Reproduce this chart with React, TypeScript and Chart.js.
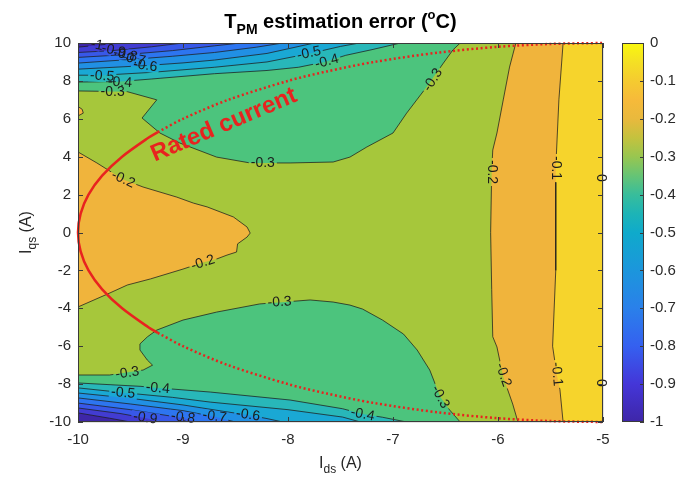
import React, { useEffect, useRef } from 'react';
import { Chart, registerables } from 'chart.js';

Chart.register(...registerables);

type P = [number, number];

const FONT = '"Liberation Sans", Arial, Helvetica, sans-serif';

// ---- axes ----
const X_MIN = -10, X_MAX = -5, X_STEP = 1;
const Y_MIN = -10, Y_MAX = 10, Y_STEP = 2;
const CB_MIN = -1, CB_MAX = 0, CB_STEP = 0.1;

// ---- contour lines (data coords: Ids, Iqs) ----
const c01: P[] = [[-5.38, 10], [-5.42, 7.0], [-5.45, 3.4], [-5.45, -2], [-5.48, -6.0], [-5.44, -7.5], [-5.41, -8.3], [-5.38, -10]];
const c02Right: P[] = [[-5.83, 10], [-5.89, 8.73], [-5.95, 7.0], [-6.01, 5.25], [-6.05, 4.35], [-6.06, 3.2], [-6.07, 0], [-6.06, -3], [-6.05, -5.5], [-6.01, -6.04], [-5.95, -7.63], [-5.86, -9.05], [-5.81, -10]];
const c02Left: P[] = [[-10, 4.25], [-9.82, 3.67], [-9.57, 2.8], [-9.38, 2.4], [-9.06, 1.87], [-8.9, 1.55], [-8.77, 1.35], [-8.52, 0.82], [-8.39, 0.29], [-8.36, -0.03], [-8.39, -0.24], [-8.48, -0.6], [-8.49, -1.03], [-8.58, -1.19], [-8.68, -1.4], [-8.81, -1.58], [-9.0, -1.93], [-9.31, -2.45], [-9.53, -2.77], [-9.72, -3.25], [-10, -3.93]];
const c02Bump: P[] = [[-10, 6.65], [-9.96, 6.5], [-9.95, 6.3], [-10, 6.15]];
const c03Top: P[] = [[-10, 7.47], [-9.53, 7.43], [-9.25, 7.0], [-9.39, 6.04], [-9.22, 5.25], [-9.03, 4.72], [-8.68, 3.98], [-8.36, 3.67], [-7.98, 3.67], [-7.57, 3.72], [-7.41, 3.98], [-7.25, 4.51], [-7.0, 5.25], [-6.87, 6.3], [-6.68, 7.68], [-6.52, 8.94], [-6.43, 9.63], [-6.36, 10]];
const c03Bottom: P[] = [[-10, -7.52], [-9.7, -7.52], [-9.38, -7.26], [-9.29, -7.0], [-9.34, -6.73], [-9.41, -6.2], [-9.41, -5.88], [-9.34, -5.51], [-9.25, -5.15], [-9.0, -4.62], [-8.68, -4.2], [-8.27, -3.77], [-7.79, -3.56], [-7.57, -3.67], [-7.41, -3.83], [-7.29, -4.04], [-7.1, -4.62], [-6.9, -5.36], [-6.77, -6.2], [-6.65, -7.26], [-6.55, -8.68], [-6.46, -9.37], [-6.36, -10]];

// upper band (left edge -> top edge)
const u04: P[] = [[-10, 7.94], [-9.62, 7.96], [-9.3, 8.1], [-8.7, 8.38], [-8.2, 8.55], [-7.9, 8.72], [-7.65, 9.0], [-7.45, 9.35], [-7.2, 9.65], [-6.93, 10]];
const u05: P[] = [[-10, 8.3], [-9.77, 8.3], [-9.3, 8.45], [-8.7, 8.72], [-8.2, 9.0], [-7.79, 9.45], [-7.5, 9.82], [-7.32, 10]];
const u06: P[] = [[-10, 8.62], [-9.38, 8.8], [-9.0, 8.95], [-8.7, 9.1], [-8.2, 9.45], [-7.75, 10]];
const u07: P[] = [[-10, 8.94], [-9.48, 9.14], [-9.1, 9.3], [-8.7, 9.5], [-8.3, 9.78], [-8.05, 10]];
const u08: P[] = [[-10, 9.24], [-9.56, 9.38], [-9.1, 9.6], [-8.7, 9.85], [-8.45, 10]];
const u09: P[] = [[-10, 9.5], [-9.67, 9.6], [-9.3, 9.8], [-9.0, 10]];
const u10: P[] = [[-10, 9.78], [-9.82, 9.88], [-9.6, 10]];

// lower band (left edge -> bottom edge)
const l04: P[] = [[-10, -7.94], [-9.4, -8.12], [-9.24, -8.2], [-8.74, -8.42], [-7.98, -8.84], [-7.48, -9.3], [-7.29, -9.58], [-7.1, -9.75], [-6.87, -10]];
const l05: P[] = [[-10, -8.2], [-9.57, -8.45], [-9.1, -8.7], [-8.74, -8.95], [-8.0, -9.35], [-7.48, -9.74], [-7.31, -10]];
const l06: P[] = [[-10, -8.47], [-9.5, -8.75], [-9.0, -9.1], [-8.6, -9.45], [-8.38, -9.63], [-8.2, -9.82], [-8.05, -10]];
const l07: P[] = [[-10, -8.73], [-9.5, -9.05], [-9.0, -9.4], [-8.7, -9.72], [-8.5, -10]];
const l08: P[] = [[-10, -9.0], [-9.5, -9.35], [-9.0, -9.79], [-8.85, -10]];
const l09: P[] = [[-10, -9.26], [-9.6, -9.55], [-9.36, -9.79], [-9.2, -10]];
const l10: P[] = [[-10, -9.52], [-9.7, -9.8], [-9.5, -10]];

// rated current curve
const ratedSolid: P[] = [[-9.24, 5.3], [-9.33, 5.0], [-9.58, 4.0], [-9.77, 3.0], [-9.9, 2.0], [-9.975, 1.0], [-10, 0], [-9.975, -1.0], [-9.9, -2.0], [-9.77, -3.0], [-9.58, -4.0], [-9.33, -5.0], [-9.24, -5.3]];
const ratedUpper: P[] = [[-9.24, 5.3], [-9.0, 6.0], [-8.57, 7.0], [-8.0, 8.0], [-7.63, 8.5], [-7.18, 9.0], [-6.56, 9.5], [-6.0, 9.8], [-5.5, 9.95], [-5.0, 10]];
const ratedLower: P[] = [[-9.24, -5.3], [-9.0, -6.0], [-8.57, -7.0], [-8.0, -8.0], [-7.63, -8.5], [-7.18, -9.0], [-6.56, -9.5], [-6.0, -9.8], [-5.5, -9.95], [-5.0, -10]];

// contour labels: text, Ids, Iqs, angle(deg)
const contourLabels: [string, number, number, number][] = [
  ['-1', -9.82, 9.89, 12],
  ['-0.9', -9.66, 9.6, 12],
  ['-0.8', -9.55, 9.38, 12],
  ['-0.7', -9.47, 9.15, 12],
  ['-0.6', -9.36, 8.8, 8],
  ['-0.5', -9.77, 8.25, 4],
  ['-0.4', -9.6, 7.92, 4],
  ['-0.3', -9.67, 7.43, 0],
  ['-0.5', -7.8, 9.45, -12],
  ['-0.4', -7.63, 9.02, -15],
  ['-0.3', -8.24, 3.67, 0],
  ['-0.2', -9.57, 2.8, 25],
  ['-0.3', -6.62, 8.05, -58],
  ['-0.2', -6.06, 3.19, 90],
  ['-0.1', -5.45, 3.4, 90],
  ['0', -5.02, 2.88, 90],
  ['-0.2', -8.81, -1.6, -18],
  ['-0.3', -8.08, -3.68, -3],
  ['-0.2', -5.95, -7.52, 71],
  ['-0.1', -5.44, -7.47, 85],
  ['0', -5.02, -7.94, 90],
  ['-0.3', -6.55, -8.68, 62],
  ['-0.4', -7.29, -9.6, 12],
  ['-0.3', -9.53, -7.42, -8],
  ['-0.4', -9.24, -8.22, 5],
  ['-0.5', -9.57, -8.47, 5],
  ['-0.9', -9.36, -9.79, 8],
  ['-0.8', -9.0, -9.77, 8],
  ['-0.7', -8.7, -9.72, 8],
  ['-0.6', -8.38, -9.63, 8],
];
const RATED_TEXT: [string, number, number, number] = ['Rated current', -8.61, 5.67, -23];

// ---- colours ----
const BAND = {
  gt01: '#F6D42C', b12: '#F0B43C', b23: '#A6C73B', b34: '#4CC47D', b45: '#28B7B9',
  b56: '#1AA8D4', b67: '#2190E4', b78: '#2D75F0', b89: '#3858E8', b910: '#423CD2', lt10: '#3E26A8',
};
const cbStops: [number, string][] = [
  [-1.0, '#3E26A8'], [-0.9, '#4436D8'], [-0.8, '#3560F0'], [-0.7, '#2A80EA'], [-0.6, '#1C96DC'],
  [-0.5, '#0FAACB'], [-0.45, '#1DB4B6'], [-0.4, '#38BD9B'], [-0.35, '#66C475'], [-0.3, '#98C650'],
  [-0.25, '#C4C23E'], [-0.2, '#E9B93D'], [-0.15, '#F6BA3A'], [-0.1, '#F5CB30'], [-0.05, '#F4E024'], [0, '#F9F80E'],
];
const LINE_COLOR = 'rgba(30,30,30,0.85)';
const RED = '#E8231F';
const LABEL_SIZE = 14;

const toPts = (a: P[]) => a.map(([x, y]) => ({ x, y }));

function drawRich(ctx: CanvasRenderingContext2D, segs: { t: string; size: number; dy: number; bold?: boolean }[], cx: number, base: number) {
  let total = 0;
  const ws = segs.map((s) => {
    ctx.font = `${s.bold ? 'bold ' : ''}${s.size}px ${FONT}`;
    const w = ctx.measureText(s.t).width;
    total += w;
    return w;
  });
  let x = cx - total / 2;
  ctx.textAlign = 'left';
  ctx.textBaseline = 'alphabetic';
  segs.forEach((s, i) => {
    ctx.font = `${s.bold ? 'bold ' : ''}${s.size}px ${FONT}`;
    ctx.fillText(s.t, x, base + s.dy);
    x += ws[i];
  });
}

const mainPlugin = {
  id: 'contourDecor',
  beforeDatasetDraw(chart: any, args: any) {
    const ds = chart.data.datasets[args.index];
    if (!ds.contour) return;
    const ctx = chart.ctx;
    const sx = chart.scales.x, sy = chart.scales.y;
    ctx.save();
    ctx.beginPath();
    ctx.rect(0, 0, chart.width, chart.height);
    ctx.font = `${LABEL_SIZE}px ${FONT}`;
    for (const [t, x, y, a] of contourLabels) {
      const cx = sx.getPixelForValue(x), cy = sy.getPixelForValue(y);
      const hw = ctx.measureText(t).width / 2 + 2, hh = 6;
      const r = (a * Math.PI) / 180, c = Math.cos(r), s = Math.sin(r);
      const cs = [[-hw, -hh], [hw, -hh], [hw, hh], [-hw, hh]].map(([u, v]) => [cx + u * c - v * s, cy + u * s + v * c]);
      ctx.moveTo(cs[0][0], cs[0][1]);
      for (let i = 1; i < 4; i++) ctx.lineTo(cs[i][0], cs[i][1]);
      ctx.closePath();
    }
    ctx.clip('evenodd');
  },
  afterDatasetDraw(chart: any, args: any) {
    const ds = chart.data.datasets[args.index];
    if (ds.contour) chart.ctx.restore();
  },
  afterDatasetsDraw(chart: any) {
    const ctx = chart.ctx;
    const sx = chart.scales.x, sy = chart.scales.y;
    ctx.save();
    ctx.fillStyle = '#1c1c1c';
    ctx.font = `${LABEL_SIZE}px ${FONT}`;
    ctx.textAlign = 'center';
    ctx.textBaseline = 'middle';
    for (const [t, x, y, a] of contourLabels) {
      ctx.save();
      ctx.translate(sx.getPixelForValue(x), sy.getPixelForValue(y));
      ctx.rotate((a * Math.PI) / 180);
      ctx.fillText(t, 0, 0);
      ctx.restore();
    }
    const [rt, rx, ry, ra] = RATED_TEXT;
    ctx.font = `bold 24px ${FONT}`;
    ctx.fillStyle = RED;
    ctx.translate(sx.getPixelForValue(rx), sy.getPixelForValue(ry));
    ctx.rotate((ra * Math.PI) / 180);
    ctx.fillText(rt, 0, 0);
    ctx.restore();
  },
  afterDraw(chart: any) {
    const ctx = chart.ctx;
    const { left, right, top, bottom } = chart.chartArea;
    const sx = chart.scales.x, sy = chart.scales.y;
    ctx.save();
    ctx.strokeStyle = '#3a3a3a';
    ctx.lineWidth = 1;
    ctx.strokeRect(Math.round(left) + 0.5, Math.round(top) + 0.5, Math.round(right - left) - 1, Math.round(bottom - top) - 1);
    ctx.beginPath();
    for (let v = X_MIN; v <= X_MAX; v += X_STEP) {
      const p = Math.round(sx.getPixelForValue(v)) + 0.5;
      ctx.moveTo(p, bottom); ctx.lineTo(p, bottom - 5);
      ctx.moveTo(p, top); ctx.lineTo(p, top + 5);
    }
    for (let v = Y_MIN; v <= Y_MAX; v += Y_STEP) {
      const p = Math.round(sy.getPixelForValue(v)) + 0.5;
      ctx.moveTo(left, p); ctx.lineTo(left + 5, p);
      ctx.moveTo(right, p); ctx.lineTo(right - 5, p);
    }
    ctx.stroke();
    // title
    const cx = (left + right) / 2;
    ctx.fillStyle = '#000';
    drawRich(ctx, [
      { t: 'T', size: 20, dy: 0, bold: true },
      { t: 'PM', size: 14, dy: 6, bold: true },
      { t: ' estimation error (', size: 20, dy: 0, bold: true },
      { t: 'o', size: 13, dy: -9, bold: true },
      { t: 'C)', size: 20, dy: 0, bold: true },
    ], cx, 28);
    // axis labels
    ctx.fillStyle = '#262626';
    drawRich(ctx, [
      { t: 'I', size: 16, dy: 0 },
      { t: 'ds', size: 12, dy: 5 },
      { t: ' (A)', size: 16, dy: 0 },
    ], cx, 468);
    ctx.translate(31, (top + bottom) / 2);
    ctx.rotate(-Math.PI / 2);
    drawRich(ctx, [
      { t: 'I', size: 16, dy: 0 },
      { t: 'qs', size: 12, dy: 5 },
      { t: ' (A)', size: 16, dy: 0 },
    ], 0, 0);
    ctx.restore();
  },
};

const cbPlugin = {
  id: 'cbDecor',
  afterDraw(chart: any) {
    const ctx = chart.ctx;
    const { left, right, top, bottom } = chart.chartArea;
    const sy = chart.scales.y;
    ctx.save();
    ctx.strokeStyle = '#3a3a3a';
    ctx.lineWidth = 1;
    ctx.strokeRect(Math.round(left) + 0.5, Math.round(top) + 0.5, Math.round(right - left) - 1, Math.round(bottom - top) - 1);
    ctx.beginPath();
    for (let i = 0; i <= 10; i++) {
      const v = CB_MIN + i * CB_STEP;
      const p = Math.round(sy.getPixelForValue(v)) + 0.5;
      ctx.moveTo(right, p); ctx.lineTo(right - 4, p);
    }
    ctx.stroke();
    ctx.restore();
  },
};

export default function App() {
  const mainRef = useRef<HTMLCanvasElement>(null);
  const cbRef = useRef<HTMLCanvasElement>(null);

  useEffect(() => {
    const datasets: any[] = [];
    const poly = (p: P[], color: string) =>
      datasets.push({ data: toPts(p), showLine: true, fill: 'shape', backgroundColor: color, borderColor: 'transparent', borderWidth: 0, pointRadius: 0, pointHoverRadius: 0, tension: 0 });
    const line = (p: P[]) =>
      datasets.push({ data: toPts(p), showLine: true, fill: false, contour: true, borderColor: LINE_COLOR, borderWidth: 0.9, pointRadius: 0, pointHoverRadius: 0, tension: 0 });
    const red = (p: P[], dashed: boolean) =>
      datasets.push({ data: toPts(p), showLine: true, fill: false, borderColor: RED, borderWidth: 2.5, borderDash: dashed ? [2, 2.6] : [], pointRadius: 0, pointHoverRadius: 0, tension: 0.3, clip: false });

    poly([[X_MIN, Y_MIN], [X_MAX, Y_MIN], [X_MAX, Y_MAX], [X_MIN, Y_MAX]], BAND.b23);
    poly([...c02Right, [X_MAX, Y_MIN], [X_MAX, Y_MAX]], BAND.b12);
    poly([...c01, [X_MAX, Y_MIN], [X_MAX, Y_MAX]], BAND.gt01);
    poly(c02Left, BAND.b12);
    poly(c02Bump, BAND.b12);
    poly([...c03Top, [X_MIN, Y_MAX]], BAND.b34);
    poly([...c03Bottom, [X_MIN, Y_MIN]], BAND.b34);
    const upper: [P[], string][] = [[u04, BAND.b45], [u05, BAND.b56], [u06, BAND.b67], [u07, BAND.b78], [u08, BAND.b89], [u09, BAND.b910], [u10, BAND.lt10]];
    const lower: [P[], string][] = [[l04, BAND.b45], [l05, BAND.b56], [l06, BAND.b67], [l07, BAND.b78], [l08, BAND.b89], [l09, BAND.b910], [l10, BAND.lt10]];
    upper.forEach(([p, c]) => poly([...p, [X_MIN, Y_MAX]], c));
    lower.forEach(([p, c]) => poly([...p, [X_MIN, Y_MIN]], c));
    [c01, c02Right, c02Left, c02Bump, c03Top, c03Bottom].forEach(line);
    upper.forEach(([p]) => line(p));
    lower.forEach(([p]) => line(p));
    red(ratedSolid, false);
    red(ratedUpper, true);
    red(ratedLower, true);
    datasets.forEach((d, i) => (d.order = datasets.length - i));

    const tickFont = { family: FONT, size: 15 };
    const main = new Chart(mainRef.current as HTMLCanvasElement, {
      type: 'scatter',
      data: { datasets },
      options: {
        animation: false,
        responsive: false,
        events: [],
        layout: { padding: { top: 43, right: 97, bottom: 0, left: 0 } },
        plugins: { legend: { display: false }, tooltip: { enabled: false }, title: { display: false } },
        scales: {
          x: {
            type: 'linear', min: X_MIN, max: X_MAX, z: 1,
            ticks: { stepSize: X_STEP, padding: 9, color: '#2a2a2a', font: tickFont, maxRotation: 0 },
            grid: { color: 'rgba(38,38,38,0.13)', drawTicks: false },
            border: { display: false },
            afterFit: (s: any) => { s.height = 55; },
          },
          y: {
            type: 'linear', min: Y_MIN, max: Y_MAX, z: 1,
            ticks: { stepSize: Y_STEP, padding: 7, color: '#2a2a2a', font: tickFont },
            grid: { color: 'rgba(38,38,38,0.13)', drawTicks: false },
            border: { display: false },
            afterFit: (s: any) => { s.width = 78; },
          },
        },
      } as any,
      plugins: [mainPlugin],
    });

    const cb = new Chart(cbRef.current as HTMLCanvasElement, {
      type: 'bar',
      data: {
        labels: [''],
        datasets: [{
          data: [[CB_MIN, CB_MAX]] as any,
          backgroundColor: (c: any) => {
            const ch = c.chart; const a = ch.chartArea;
            if (!a) return '#888';
            const g = ch.ctx.createLinearGradient(0, a.bottom, 0, a.top);
            cbStops.forEach(([v, col]) => g.addColorStop((v - CB_MIN) / (CB_MAX - CB_MIN), col));
            return g;
          },
          borderWidth: 0,
          barPercentage: 1,
          categoryPercentage: 1,
          inflateAmount: 0,
        }],
      },
      options: {
        animation: false,
        responsive: false,
        events: [],
        layout: { padding: { left: 622, top: 43, bottom: 55, right: 0 } },
        plugins: { legend: { display: false }, tooltip: { enabled: false } },
        scales: {
          x: { display: false },
          y: {
            position: 'right', min: CB_MIN, max: CB_MAX,
            ticks: {
              stepSize: CB_STEP, padding: 6, color: '#2a2a2a', font: tickFont,
              callback: (v: any) => { const n = Math.round(Number(v) * 10) / 10; return n === 0 ? '0' : String(n); },
            },
            grid: { display: false, drawTicks: false },
            border: { display: false },
            afterFit: (s: any) => { s.width = 56; },
          },
        },
      } as any,
      plugins: [cbPlugin],
    });

    return () => { main.destroy(); cb.destroy(); };
  }, []);

  return (
    <div style={{ position: 'fixed', left: 0, top: 0, width: 700, height: 477, background: '#fff' }}>
      <canvas ref={mainRef} width={700} height={477} style={{ position: 'absolute', left: 0, top: 0 }} />
      <canvas ref={cbRef} width={700} height={477} style={{ position: 'absolute', left: 0, top: 0 }} />
    </div>
  );
}
